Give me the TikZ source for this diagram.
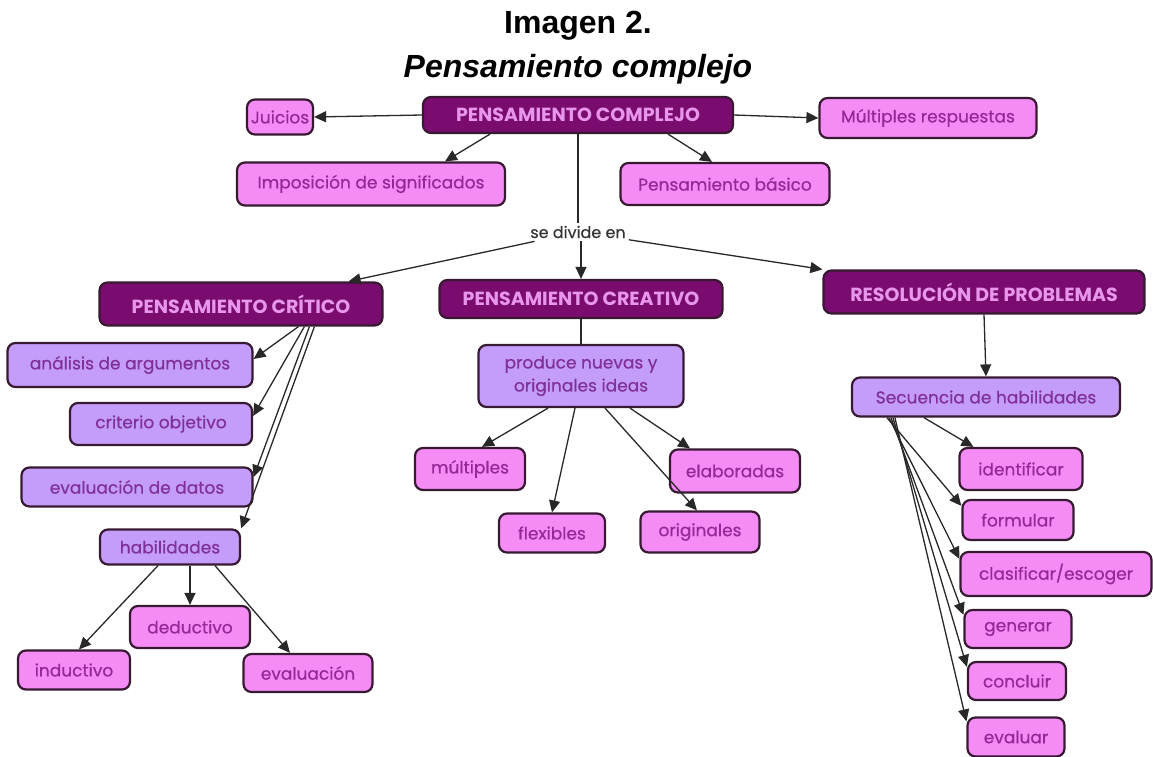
\documentclass[tikz,border=0pt]{standalone}
\usepackage{fontspec}
\setmainfont{Poppins}
\newfontfamily\boxfont{Poppins}[FakeBold=0.5]
\newfontfamily\titlefont{Liberation Sans}
\usetikzlibrary{arrows.meta}
\definecolor{cDark}{RGB}{122,12,112}
\definecolor{cDarkText}{RGB}{232,150,236}
\definecolor{cLav}{RGB}{196,156,250}
\definecolor{cLavText}{RGB}{128,48,150}
\definecolor{cPink}{RGB}{245,140,245}
\definecolor{cPinkText}{RGB}{150,40,150}
\definecolor{cEdge}{RGB}{55,25,50}
\definecolor{cConn}{RGB}{40,40,40}
\begin{document}
\begin{tikzpicture}[x=1pt,y=-1pt,
	box/.style={draw=cEdge, line width=2.2pt, rounded corners=8pt, inner sep=2pt, align=center},
	mainbox/.style={box, fill=cDark, text=cDarkText, font=\fontsize{19}{22}\selectfont\bfseries},
	lavnode/.style={box, fill=cLav, text=cLavText, font=\boxfont\fontsize{17}{23}\selectfont},
	pinknode/.style={box, fill=cPink, text=cPinkText, font=\boxfont\fontsize{17}{22}\selectfont},
	title/.style={anchor=base, font=\titlefont\fontsize{32}{34}\selectfont\bfseries},
	arr/.style={draw=cConn, line width=1.3pt, -{Triangle[length=12pt,width=11pt]}},
	ln/.style={draw=cConn, line width=1.3pt}]
	\useasboundingbox (0,0) rectangle (1153,757);
	\node[title] (t1) at (578,34) {Imagen 2.};
	\node[title] (t2) at (578,78) {\itshape Pensamiento complejo};

	\node[mainbox, minimum width=310pt, minimum height=36pt] (pc) at (578,115) {PENSAMIENTO COMPLEJO};
	\node[pinknode, minimum width=66pt, minimum height=35pt] (jui) at (280,117) {Juicios};
	\node[pinknode, minimum width=217pt, minimum height=40pt] (mul) at (928,118) {Múltiples respuestas};
	\node[pinknode, minimum width=268pt, minimum height=43pt] (imp) at (371,184) {Imposición de significados};
	\node[pinknode, minimum width=209pt, minimum height=42pt] (bas) at (725,184) {Pensamiento básico};
	\node[inner sep=3pt, text=black!80, font=\boxfont\fontsize{16}{18}\selectfont] (div) at (578,232) {se divide en};

	\node[mainbox, minimum width=283pt, minimum height=43pt] (crit) at (241,304) {PENSAMIENTO CRÍTICO};
	\node[mainbox, minimum width=283pt, minimum height=38pt] (cre) at (581,299) {PENSAMIENTO CREATIVO};
	\node[mainbox, minimum width=321pt, minimum height=43pt] (res) at (984,292) {RESOLUCIÓN DE PROBLEMAS};

	\node[lavnode, minimum width=245pt, minimum height=44pt] (ana) at (130,365) {análisis de argumentos};
	\node[lavnode, minimum width=182pt, minimum height=42pt] (cri) at (161,424) {criterio objetivo};
	\node[lavnode, minimum width=231pt, minimum height=39pt] (evd) at (137,487) {evaluación de datos};
	\node[lavnode, minimum width=140pt, minimum height=35pt] (hab) at (170,547) {habilidades};
	\node[pinknode, minimum width=120pt, minimum height=42pt] (ded) at (190,627) {deductivo};
	\node[pinknode, minimum width=112pt, minimum height=39pt] (ind) at (74,670) {inductivo};
	\node[pinknode, minimum width=129pt, minimum height=38pt] (evn) at (308,673) {evaluación};

	\node[lavnode, minimum width=205pt, minimum height=62pt] (prod) at (581,376) {produce nuevas y\\originales ideas};
	\node[pinknode, minimum width=110pt, minimum height=42pt] (mlt) at (470,469) {múltiples};
	\node[pinknode, minimum width=130pt, minimum height=43pt] (ela) at (735,471) {elaboradas};
	\node[pinknode, minimum width=106pt, minimum height=39pt] (flx) at (552,533) {flexibles};
	\node[pinknode, minimum width=119pt, minimum height=41pt] (ori) at (700,532) {originales};

	\node[lavnode, minimum width=268pt, minimum height=39pt] (sec) at (986,397) {Secuencia de habilidades};
	\node[pinknode, minimum width=123pt, minimum height=42pt] (ide) at (1021,469) {identificar};
	\node[pinknode, minimum width=111pt, minimum height=40pt] (frm) at (1018,520) {formular};
	\node[pinknode, minimum width=191pt, minimum height=44pt] (cla) at (1056,574) {clasificar/escoger};
	\node[pinknode, minimum width=107pt, minimum height=38pt] (gen) at (1018,629) {generar};
	\node[pinknode, minimum width=98pt, minimum height=38pt] (con) at (1017,681) {concluir};
	\node[pinknode, minimum width=97pt, minimum height=39pt] (evl) at (1016,737) {evaluar};

	\draw[arr] (pc.west) -- (jui.east);
	\draw[arr] (pc.east) -- (mul.west);
	\draw[arr] ([xshift=-88pt]pc.south) -- ([xshift=74pt]imp.north);
	\draw[arr] ([xshift=90pt]pc.south) -- ([xshift=-13pt]bas.north);
	\draw[ln] (pc.south) -- (div.north);
	\draw[arr] (div) -- ([xshift=-35pt]crit.north east);
	\draw[arr] ([xshift=3pt]div.south) -- (cre.north);
	\draw[arr] (div) -- (res.north west);

	\draw[arr] ([xshift=200pt]crit.south west) -- ([yshift=6pt]ana.east);
	\draw[arr] ([xshift=206pt]crit.south west) -- ([yshift=8pt]cri.east);
	\draw[arr] ([xshift=211pt]crit.south west) -- ([yshift=10pt]evd.east);
	\draw[arr] ([xshift=216pt]crit.south west) -- (hab.north east);
	\draw[arr] ([xshift=-12pt]hab.south) -- ([xshift=5pt]ind.north);
	\draw[arr] ([xshift=20pt]hab.south) -- (ded.north);
	\draw[arr] ([xshift=45pt]hab.south) -- ([xshift=-18pt]evn.north);

	\draw[ln] (cre.south) -- (prod.north);
	\draw[arr] ([xshift=-33pt]prod.south) -- ([xshift=12pt]mlt.north);
	\draw[arr] ([xshift=-6pt]prod.south) -- (flx.north);
	\draw[arr] ([xshift=24pt]prod.south) -- ([xshift=-3pt]ori.north);
	\draw[arr] ([xshift=49pt]prod.south) -- ([xshift=-45pt]ela.north);

	\draw[arr] (res.south) -- (sec.north);
	\draw[arr] ([xshift=73pt]sec.south west) -- ([xshift=15pt]ide.north west);
	\draw[arr] ([xshift=36pt]sec.south west) -- ([yshift=-7pt]frm.north west);
	\draw[arr] ([xshift=38pt]sec.south west) -- ([yshift=-8pt]cla.north west);
	\draw[arr] ([xshift=40pt]sec.south west) -- ([yshift=-6pt]gen.north west);
	\draw[arr] ([xshift=42pt]sec.south west) -- ([yshift=-6pt]con.north west);
	\draw[arr] ([xshift=44pt]sec.south west) -- ([yshift=-5pt]evl.north west);
\end{tikzpicture}
\end{document}
